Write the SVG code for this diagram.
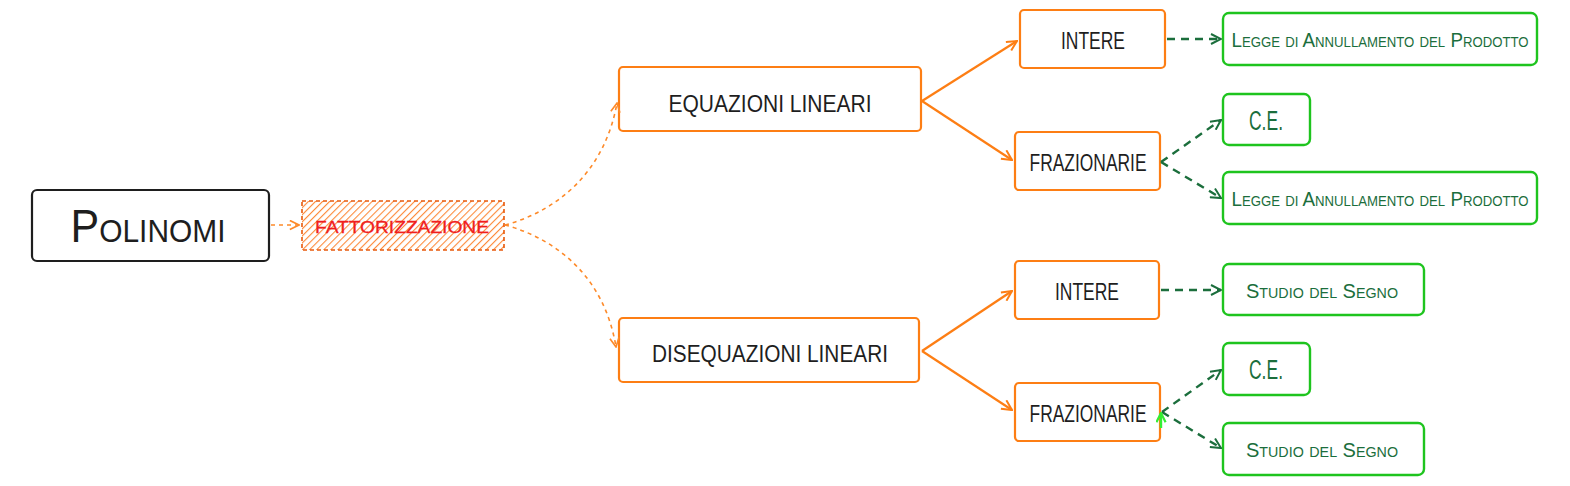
<svg xmlns="http://www.w3.org/2000/svg" width="1570" height="486" viewBox="0 0 1570 486">
<defs>
<style>
.hand{font-family:"Liberation Sans","DejaVu Sans",sans-serif;}
.blk{fill:#1e1e1e;stroke:none;}
.grn{fill:#1b6e3c;font-variant:small-caps;}
.obox{fill:#ffffff;stroke:#fd7e14;stroke-width:2.2;}
.gbox{fill:#ffffff;stroke:#1ec41e;stroke-width:2.4;}
.kbox{fill:#ffffff;stroke:#1e1e1e;stroke-width:2.2;}
.oline{fill:none;stroke:#fd7e14;stroke-width:2.2;}
.odash{fill:none;stroke:#fd8a2a;stroke-width:1.6;stroke-dasharray:4 4;}
.gdash{fill:none;stroke:#1b6e3c;stroke-width:2.4;stroke-dasharray:8 6;}
</style>
<pattern id="hatch" patternUnits="userSpaceOnUse" width="5" height="5" patternTransform="rotate(45)">
<rect width="5" height="5" fill="#ffffff"/>
<line x1="0" y1="0" x2="0" y2="5" stroke="#fd8a3a" stroke-width="2.2"/>
</pattern>
<marker id="ao" viewBox="0 0 12 12" refX="11" refY="6" markerWidth="12" markerHeight="12" markerUnits="userSpaceOnUse" orient="auto">
<path d="M1,1 L11,6 L1,11" fill="none" stroke="#fd7e14" stroke-width="2"/>
</marker>
<marker id="aod" viewBox="0 0 12 12" refX="11" refY="6" markerWidth="11" markerHeight="11" markerUnits="userSpaceOnUse" orient="auto">
<path d="M1,1 L11,6 L1,11" fill="none" stroke="#fd8a2a" stroke-width="1.8"/>
</marker>
<marker id="ag" viewBox="0 0 12 12" refX="11" refY="6" markerWidth="12" markerHeight="12" markerUnits="userSpaceOnUse" orient="auto">
<path d="M1,1 L11,6 L1,11" fill="none" stroke="#1b6e3c" stroke-width="2"/>
</marker>
<marker id="agb" viewBox="0 0 12 12" refX="11" refY="6" markerWidth="11" markerHeight="11" markerUnits="userSpaceOnUse" orient="auto">
<path d="M1,1 L11,6 L1,11" fill="none" stroke="#33ee33" stroke-width="2.4"/>
</marker>
</defs>
<rect width="1570" height="486" fill="#ffffff"/>

<g id="polinomi">
<rect class="kbox" x="32" y="190" width="237" height="71" rx="5"/>
<text class="hand blk" x="148" y="242" font-size="46" text-anchor="middle" font-variant="small-caps" textLength="155" lengthAdjust="spacingAndGlyphs">Polinomi</text>
</g>

<g id="fattorizzazione">
<rect x="302" y="201" width="202" height="49" fill="url(#hatch)" stroke="#e8590c" stroke-width="1.6" stroke-dasharray="4 3"/>
<text class="hand" x="402" y="233" font-size="16" fill="#f01e1e" stroke="#f01e1e" stroke-width="0.3" text-anchor="middle" textLength="174" lengthAdjust="spacingAndGlyphs">FATTORIZZAZIONE</text>
</g>

<g id="equazioni">
<rect class="obox" x="619" y="67" width="302" height="64" rx="4"/>
<text class="hand blk" x="770" y="112" font-size="24" text-anchor="middle" textLength="203" lengthAdjust="spacingAndGlyphs">EQUAZIONI LINEARI</text>
</g>

<g id="disequazioni">
<rect class="obox" x="619" y="318" width="300" height="64" rx="4"/>
<text class="hand blk" x="770" y="362" font-size="24" text-anchor="middle" textLength="236" lengthAdjust="spacingAndGlyphs">DISEQUAZIONI LINEARI</text>
</g>

<g id="intere1">
<rect class="obox" x="1020" y="10" width="145" height="58" rx="4"/>
<text class="hand blk" x="1093" y="49" font-size="23" text-anchor="middle" textLength="64" lengthAdjust="spacingAndGlyphs">INTERE</text>
</g>

<g id="frazionarie1">
<rect class="obox" x="1015" y="132" width="145" height="58" rx="4"/>
<text class="hand blk" x="1088" y="171" font-size="23" text-anchor="middle" textLength="117" lengthAdjust="spacingAndGlyphs">FRAZIONARIE</text>
</g>

<g id="intere2">
<rect class="obox" x="1015" y="261" width="144" height="58" rx="4"/>
<text class="hand blk" x="1087" y="300" font-size="23" text-anchor="middle" textLength="64" lengthAdjust="spacingAndGlyphs">INTERE</text>
</g>

<g id="frazionarie2">
<rect class="obox" x="1015" y="383" width="145" height="58" rx="4"/>
<text class="hand blk" x="1088" y="422" font-size="23" text-anchor="middle" textLength="117" lengthAdjust="spacingAndGlyphs">FRAZIONARIE</text>
</g>

<g id="legge1">
<rect class="gbox" x="1223" y="13" width="314" height="52" rx="6"/>
<text class="hand grn" x="1380" y="47" font-size="20" text-anchor="middle" textLength="297" lengthAdjust="spacingAndGlyphs">Legge di Annullamento del Prodotto</text>
</g>

<g id="ce1">
<rect class="gbox" x="1223" y="94" width="87" height="51" rx="6"/>
<text class="hand grn" x="1266" y="130" font-size="27" text-anchor="middle" textLength="34" lengthAdjust="spacingAndGlyphs">C.E.</text>
</g>

<g id="legge2">
<rect class="gbox" x="1223" y="172" width="314" height="52" rx="6"/>
<text class="hand grn" x="1380" y="206" font-size="20" text-anchor="middle" textLength="297" lengthAdjust="spacingAndGlyphs">Legge di Annullamento del Prodotto</text>
</g>

<g id="studio1">
<rect class="gbox" x="1223" y="264" width="201" height="51" rx="6"/>
<text class="hand grn" x="1322" y="298" font-size="21" text-anchor="middle" textLength="152" lengthAdjust="spacingAndGlyphs">Studio del Segno</text>
</g>

<g id="ce2">
<rect class="gbox" x="1223" y="343" width="87" height="52" rx="6"/>
<text class="hand grn" x="1266" y="379" font-size="27" text-anchor="middle" textLength="34" lengthAdjust="spacingAndGlyphs">C.E.</text>
</g>

<g id="studio2">
<rect class="gbox" x="1223" y="423" width="201" height="52" rx="6"/>
<text class="hand grn" x="1322" y="457" font-size="21" text-anchor="middle" textLength="152" lengthAdjust="spacingAndGlyphs">Studio del Segno</text>
</g>

<g id="connectors">
<path class="odash" d="M271,225 L299,225" marker-end="url(#aod)"/>
<path class="odash" d="M505,225 C560,210 605,170 617,103" marker-end="url(#aod)"/>
<path class="odash" d="M505,225 C560,240 605,280 616,347" marker-end="url(#aod)"/>
<path class="oline" d="M922,101 L1017,41" marker-end="url(#ao)"/>
<path class="oline" d="M922,101 L1012,160" marker-end="url(#ao)"/>
<path class="oline" d="M922,351 L1012,291" marker-end="url(#ao)"/>
<path class="oline" d="M922,351 L1012,410" marker-end="url(#ao)"/>
<path class="gdash" d="M1167,39 L1221,39" marker-end="url(#ag)"/>
<path class="gdash" d="M1161,162 L1221,120" marker-end="url(#ag)"/>
<path class="gdash" d="M1161,162 L1221,198" marker-end="url(#ag)"/>
<path class="gdash" d="M1161,290 L1221,290" marker-end="url(#ag)"/>
<path class="gdash" d="M1162,412 L1221,370" marker-end="url(#ag)"/>
<path class="gdash" d="M1162,412 L1221,448" marker-end="url(#ag)"/>
<path d="M1161,428 L1161,413" fill="none" stroke="#33ee33" stroke-width="2.4" marker-end="url(#agb)"/>
</g>
</svg>
